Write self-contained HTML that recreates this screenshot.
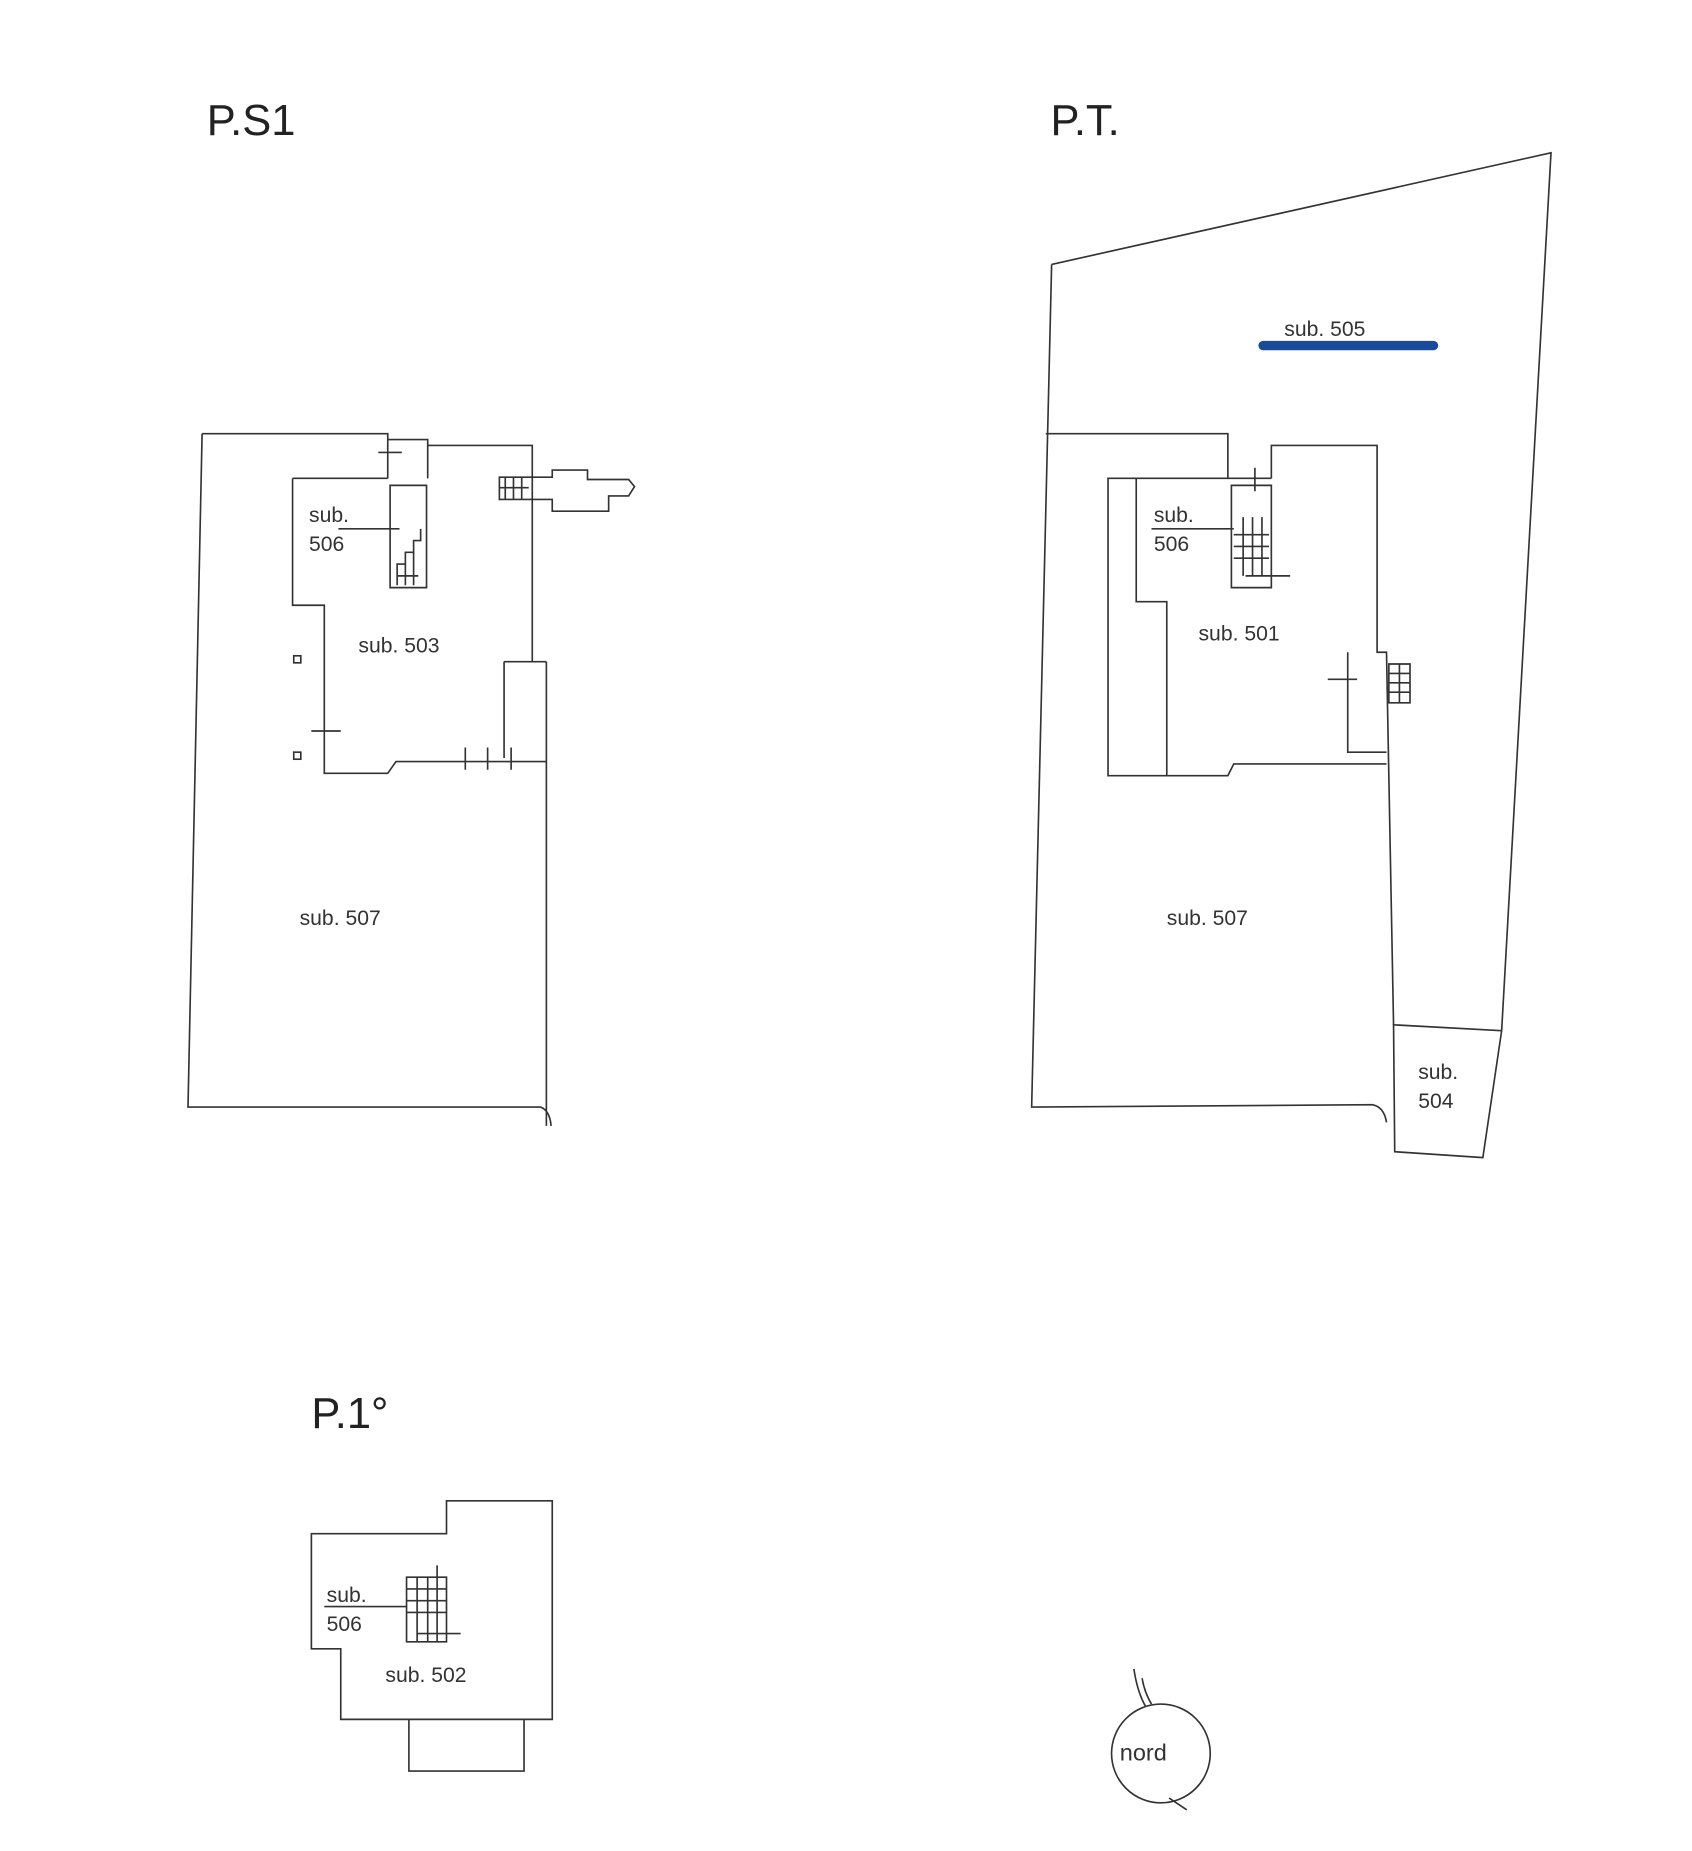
<!DOCTYPE html>
<html><head><meta charset="utf-8"><style>
html,body{margin:0;padding:0;background:#fff;}
svg{display:block;}
text{font-family:"Liberation Sans",sans-serif;fill:#222;}
.l{font-size:18px;fill:#333;}
.t{font-size:37px;}
</style></head><body>
<svg width="1692" height="1851" viewBox="0 0 1440 1575" preserveAspectRatio="none" xmlns="http://www.w3.org/2000/svg">
<g fill="none" stroke="#333" stroke-width="1.4">
<!-- P.S1 -->
<path d="M172,369 L330,369 L330,407 M330,374 L364,374 L364,407 M364,379 L453,379 L453,563"/>
<path d="M172,369 L160,942 L460,942 Q468,945 469,958 M465,563 L465,958"/>
<path d="M429,563 L465,563 M429,563 L429,645"/>
<path d="M249,407 L330,407 M249,407 L249,515 L276,515 L276,658 L330,658 L337,648 L465,648"/>
<path d="M332,413 L363,413 L363,500 L332,500 Z"/>
<path d="M338,498 L338,480 L345,480 L345,470 L352,470 L352,460 L358,460 L358,450 M338,490 L356,490 M345,480 L345,498 M352,470 L352,498"/>
<path d="M288,450 L340,450 M322,385 L342,385 M265,622 L290,622 M396,636 L396,655 M415,636 L415,655 M435,636 L435,655"/>
<rect x="250" y="558" width="6" height="6"/><rect x="250" y="640" width="6" height="6"/>
<path d="M425,406 L470,406 L470,400 L500,400 L500,408 L535,408 L540,414 L535,422 L518,422 L518,435 L470,435 L470,425 L425,425 Z"/>
<path d="M430,406 L430,425 M437,406 L437,425 M444,406 L444,425 M425,415 L450,415"/>
<!-- P.T. -->
<path d="M895,225 L1320,130 L1278,877 L1262,985 L1187,980 L1186,872 L1278,877"/>
<path d="M895,225 L878,942 L1168,940 Q1178,942 1180,955"/>
<path d="M890,369 L1045,369 L1045,407 L943,407 L943,660 L1045,660 L1050,650 L1180,650 M1082,407 L1082,379 L1172,379 L1172,555 L1180,555 L1186,872"/>
<path d="M967,407 L967,512 L993,512 L993,660 M1045,407 L1082,407 M1147,555 L1147,640 L1180,640"/>
<path d="M1048,413 L1082,413 L1082,500 L1048,500 Z M1050,455 L1080,455 M1050,465 L1080,465 M1050,475 L1080,475 M1058,440 L1058,490 M1066,440 L1066,490 M1074,440 L1074,490 M1068,398 L1068,418 M1060,490 L1098,490"/>
<path d="M980,450 L1050,450 M1130,578 L1155,578"/>
<path d="M1182,565 L1200,565 L1200,598 L1182,598 Z M1182,573 L1200,573 M1182,581 L1200,581 M1182,589 L1200,589 M1191,565 L1191,598"/>
<!-- P.1 -->
<path d="M265,1305 L380,1305 L380,1277 L470,1277 L470,1463 L290,1463 L290,1403 L265,1403 Z"/>
<path d="M348,1463 L348,1507 L446,1507 L446,1463"/>
<path d="M346,1342 L380,1342 L380,1397 L346,1397 Z M346,1352 L380,1352 M346,1362 L380,1362 M346,1372 L380,1372 M355,1342 L355,1397 M364,1342 L364,1397 M372,1342 L372,1397 M372,1332 L372,1342 M276,1367 L346,1367 M355,1390 L392,1390"/>
<!-- nord -->
<circle cx="988" cy="1492" r="42"/>
<path d="M965,1420 Q968,1440 975,1452 M972,1428 Q974,1440 980,1450 M995,1530 L1010,1540"/>
</g>
<line x1="1075" y1="294" x2="1220" y2="294" stroke="#1a4a9a" stroke-width="8" stroke-linecap="round"/>
<text class="t" x="176" y="115">P.S1</text>
<text class="t" x="894" y="115">P.T.</text>
<text class="t" x="265" y="1215">P.1°</text>
<text class="l" x="263" y="444">sub.</text><text class="l" x="263" y="469">506</text>
<text class="l" x="305" y="555">sub. 503</text>
<text class="l" x="255" y="787">sub. 507</text>
<text class="l" x="1093" y="286">sub. 505</text>
<text class="l" x="982" y="444">sub.</text><text class="l" x="982" y="469">506</text>
<text class="l" x="1020" y="545">sub. 501</text>
<text class="l" x="993" y="787">sub. 507</text>
<text class="l" x="1207" y="918">sub.</text><text class="l" x="1207" y="943">504</text>
<text class="l" x="278" y="1363">sub.</text><text class="l" x="278" y="1388">506</text>
<text class="l" x="328" y="1431">sub. 502</text>
<text class="l" x="953" y="1498" style="font-size:20px">nord</text>
</svg>
</body></html>
